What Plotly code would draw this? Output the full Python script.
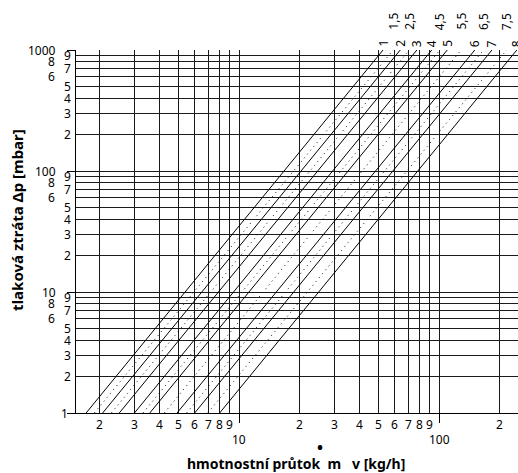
import numpy as np
import plotly.graph_objects as go

# ---- data ----
# solid lines: mass flow [kg/h] where the line meets dp = 1 mbar and dp = 1000 mbar
solid_labels = ["1", "2", "3", "4", "5", "6", "7", "8"]
solid_m_at_1 = [1.72, 2.08, 2.52, 3.0, 3.58, 4.9, 6.0, 8.0]
solid_m_at_1000 = [52.5, 64, 77.5, 92, 110, 151, 184, 245]

# dotted lines
dotted_labels = ["1,5", "2,5", "4,5", "5,5", "6,5", "7,5"]
dotted_m_at_1 = [1.89, 2.30, 3.31, 4.23, 5.47, 6.98]
dotted_m_at_1000 = [59, 71, 101, 129, 167, 218]

dp_ends = [1, 1000]

x_major = [10, 100]
x_minor = [2, 3, 4, 5, 6, 7, 8, 9, 20, 30, 40, 50, 60, 70, 80, 90, 200]
x_tick_labels = ["2", "3", "4", "5", "6", "7", "8", "9", "2", "3", "4", "5", "6", "7", "8", "9", "2"]

y_major = [1, 10, 100, 1000]
y_minor = [m * d for d in (1, 10, 100) for m in range(2, 10)]

FONT = "Noto Sans"
GRID = "#1a1a1a"

fig = go.Figure()

for lab, a, b in zip(solid_labels, solid_m_at_1, solid_m_at_1000):
    fig.add_trace(go.Scatter(x=[a, b], y=dp_ends, mode="lines",
                             line=dict(color="black", width=1), showlegend=False,
                             hoverinfo="skip"))
for lab, a, b in zip(dotted_labels, dotted_m_at_1, dotted_m_at_1000):
    fig.add_trace(go.Scatter(x=[a, b], y=dp_ends, mode="lines",
                             line=dict(color="#111111", width=1, dash="1px,4px"),
                             showlegend=False, hoverinfo="skip"))

ann = []
# line labels above the plot
for lab, b in zip(solid_labels, solid_m_at_1000):
    ann.append(dict(x=np.log10(b), y=1, xref="x", yref="paper", text=lab,
                    textangle=-90, showarrow=False, xanchor="center", yanchor="bottom",
                    yshift=1, font=dict(family=FONT, size=12, color="black")))
for lab, b in zip(dotted_labels, dotted_m_at_1000):
    ann.append(dict(x=np.log10(b), y=1, xref="x", yref="paper", text=lab,
                    textangle=-90, showarrow=False, xanchor="center", yanchor="bottom",
                    yshift=18, font=dict(family=FONT, size=12, color="black")))

# x tick labels
for v, t in zip(x_minor, x_tick_labels):
    ann.append(dict(x=np.log10(v), y=0, xref="x", yref="paper", text=t,
                    showarrow=False, xanchor="center", yanchor="top", yshift=-1,
                    font=dict(family=FONT, size=12, color="black")))
for v in x_major:
    ann.append(dict(x=np.log10(v), y=0, xref="x", yref="paper", text=str(v),
                    showarrow=False, xanchor="center", yanchor="top", yshift=-16,
                    font=dict(family=FONT, size=12, color="black")))

# y tick labels
outer = {8, 6}
for v in y_minor:
    lead = int(str(v)[0])
    ann.append(dict(x=0, y=np.log10(v), xref="paper", yref="y", text=str(lead),
                    showarrow=False, xanchor="right", yanchor="middle",
                    xshift=-19 if lead in outer else -3,
                    font=dict(family=FONT, size=12, color="black")))
for v in y_major:
    ann.append(dict(x=0, y=np.log10(v), xref="paper", yref="y", text=str(v),
                    showarrow=False, xanchor="right", yanchor="middle",
                    xshift=-6 if v == 1 else -18,
                    font=dict(family=FONT, size=12, color="black")))

# axis titles
ann.append(dict(x=0.498, y=-0.138, xref="paper", yref="paper",
                text="<b>hmotnostní průtok  m   v [kg/h]</b>", showarrow=False,
                xanchor="center", yanchor="middle",
                font=dict(family=FONT, size=14, color="black")))
ann.append(dict(x=0.553, y=-0.094, xref="paper", yref="paper", text="<b>•</b>",
                showarrow=False, xanchor="center", yanchor="middle",
                font=dict(family=FONT, size=16, color="black")))
ann.append(dict(x=-0.1335, y=0.532, xref="paper", yref="paper",
                text="<b>tlaková ztráta Δp [mbar]</b>", textangle=-90, showarrow=False,
                xanchor="center", yanchor="middle",
                font=dict(family=FONT, size=15, color="black")))

fig.update_layout(
    width=518, height=473,
    margin=dict(l=76, r=0, t=50, b=60),
    paper_bgcolor="white", plot_bgcolor="white",
    annotations=ann,
    xaxis=dict(type="log", range=[0.185, 2.395], tickmode="array", tickvals=x_major,
               showticklabels=False, ticks="outside", ticklen=9, tickcolor="black",
               showgrid=True, gridcolor=GRID, gridwidth=1,
               minor=dict(tickmode="array", tickvals=x_minor, showgrid=True,
                          gridcolor=GRID, gridwidth=1, ticks=""),
               showline=True, linecolor="black", linewidth=1, zeroline=False),
    yaxis=dict(type="log", range=[0, 3], tickmode="array", tickvals=y_major,
               showticklabels=False, ticks="outside", ticklen=8, tickcolor="black",
               showgrid=True, gridcolor=GRID, gridwidth=1,
               minor=dict(tickmode="array", tickvals=y_minor, showgrid=True,
                          gridcolor=GRID, gridwidth=1, ticks=""),
               showline=True, linecolor="black", linewidth=1, zeroline=False),
)

fig.write_html("out.html", config={"displayModeBar": False},
               post_script="document.body.style.margin='0';document.body.style.overflow='hidden';")
